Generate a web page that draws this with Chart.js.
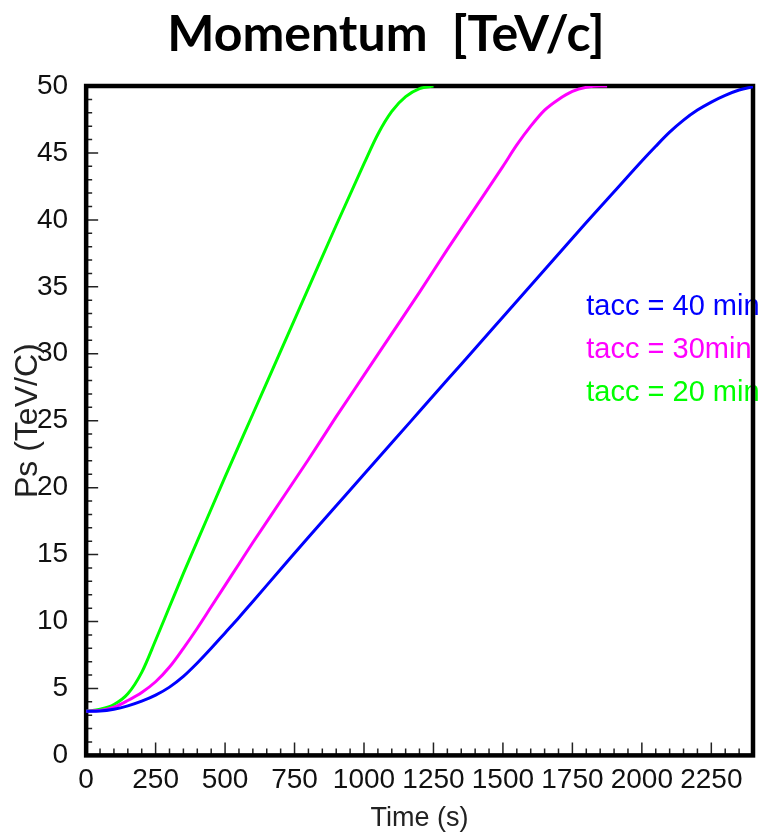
<!DOCTYPE html>
<html lang="en">
<head>
<meta charset="UTF-8" />
<title>Momentum [TeV/c]</title>
<script src="https://cdn.jsdelivr.net/npm/chart.js"></script>
<style>
  html, body { margin: 0; padding: 0; background: #fff; }
  #wrap { width: 758px; height: 832px; }
</style>
</head>
<body>
<div id="wrap"><canvas id="chartMomentum"></canvas></div>
<script>
  // momentum ramp for three acceleration times
  const blueTime = [0, 50, 100, 150, 200, 250, 300, 350, 400, 450, 500, 550, 600, 700, 800, 900, 1000, 1100, 1200, 1300, 1400, 1500, 1600, 1700, 1800, 1900, 2000, 2050, 2100, 2150, 2200, 2250, 2300, 2350, 2400];
  const blueMom  = [3.3, 3.32, 3.45, 3.7, 4.05, 4.5, 5.1, 5.9, 6.9, 8.0, 9.15, 10.3, 11.5, 13.9, 16.3, 18.65, 21.0, 23.35, 25.7, 28.05, 30.4, 32.75, 35.1, 37.45, 39.8, 42.1, 44.4, 45.5, 46.55, 47.45, 48.2, 48.8, 49.3, 49.7, 49.95];

  const magentaTime = [0, 50, 100, 150, 200, 250, 300, 350, 400, 450, 500, 550, 600, 700, 800, 900, 1000, 1100, 1200, 1300, 1400, 1500, 1550, 1600, 1650, 1700, 1750, 1800, 1850, 1875];
  const magentaMom  = [3.3, 3.35, 3.6, 4.1, 4.7, 5.5, 6.6, 8.0, 9.5, 11.1, 12.7, 14.3, 15.9, 19.0, 22.1, 25.3, 28.4, 31.5, 34.6, 37.8, 40.9, 44.0, 45.6, 47.0, 48.2, 49.0, 49.6, 49.9, 50.0, 50.0];

  const greenTime = [0, 50, 100, 150, 200, 250, 300, 350, 400, 500, 600, 700, 800, 900, 1000, 1050, 1100, 1150, 1200, 1250];
  const greenMom  = [3.3, 3.45, 3.8, 4.6, 6.2, 8.6, 11.1, 13.6, 16.0, 20.8, 25.5, 30.2, 34.9, 39.6, 44.2, 46.4, 48.1, 49.2, 49.8, 50.0];

  const seriesLabels = ['tacc = 40 min', 'tacc = 30min', 'tacc = 20 min'];
  const seriesColors = ['#0000ff', '#ff00ff', '#00ff00'];

  const xMax = 2400, xMajor = 250, xMinor = 50;
  const yMax = 50, yMajor = 5, yMinor = 1;

  const toPoints = (ts, vs) => ts.map((t, i) => ({ x: t, y: vs[i] }));

  // inward ticks, frame, in-plot labels and the y title
  const framePlugin = {
    id: 'framePlugin',
    beforeDatasetsDraw(chart) {
      const { ctx, chartArea: a, scales: { x, y } } = chart;
      ctx.save();
      ctx.strokeStyle = '#222';
      ctx.lineWidth = 1.5;
      ctx.beginPath();
      for (let t = 0; t <= xMax; t += xMinor) {
        const px = x.getPixelForValue(t);
        const len = t % xMajor === 0 ? 13 : 7;
        ctx.moveTo(px, a.bottom);
        ctx.lineTo(px, a.bottom - len);
      }
      for (let v = 0; v <= yMax; v += yMinor) {
        const py = y.getPixelForValue(v);
        const len = v % yMajor === 0 ? 12 : 6;
        ctx.moveTo(a.left, py);
        ctx.lineTo(a.left + len, py);
      }
      ctx.stroke();

      ctx.font = '29px "Liberation Sans", Arial, sans-serif';
      ctx.textBaseline = 'middle';
      ctx.textAlign = 'left';
      const lx = x.getPixelForValue(1800);
      const ly = y.getPixelForValue(33.5);
      seriesLabels.forEach((txt, i) => {
        ctx.fillStyle = seriesColors[i];
        ctx.fillText(txt, lx, ly + i * 43);
      });

      ctx.strokeStyle = '#000';
      ctx.lineWidth = 4.5;
      ctx.strokeRect(a.left, a.top, a.right - a.left, a.bottom - a.top);
      ctx.restore();
    },
    afterDraw(chart) {
      const { ctx, chartArea: a } = chart;
      ctx.save();
      ctx.translate(a.left - 58, (a.top + a.bottom) / 2);
      ctx.rotate(-Math.PI / 2);
      ctx.font = '32px "Liberation Sans", Arial, sans-serif';
      ctx.fillStyle = '#222';
      ctx.textAlign = 'center';
      ctx.textBaseline = 'middle';
      ctx.fillText('Ps (TeV/C)', 0, 0);
      ctx.restore();
    }
  };

  new Chart(document.getElementById('chartMomentum'), {
    type: 'line',
    data: {
      datasets: [
        { label: seriesLabels[0], data: toPoints(blueTime, blueMom), borderColor: seriesColors[0] },
        { label: seriesLabels[1], data: toPoints(magentaTime, magentaMom), borderColor: seriesColors[1] },
        { label: seriesLabels[2], data: toPoints(greenTime, greenMom), borderColor: seriesColors[2] }
      ].map(d => Object.assign(d, {
        borderWidth: 3,
        pointRadius: 0,
        fill: false,
        cubicInterpolationMode: 'monotone'
      }))
    },
    options: {
      responsive: true,
      maintainAspectRatio: false,
      animation: false,
      layout: { padding: { left: 19, right: 5, top: 0, bottom: 0 } },
      plugins: {
        legend: { display: false },
        tooltip: { enabled: false },
        title: {
          display: true,
          text: 'Momentum  [TeV/c]',
          color: '#000',
          font: { family: 'Lato, "Open Sans", sans-serif', size: 50, weight: 'bold' },
          padding: { top: 5, bottom: 21 }
        }
      },
      scales: {
        x: {
          type: 'linear',
          min: 0,
          max: xMax,
          grid: { display: false, drawTicks: false },
          border: { display: false },
          ticks: {
            stepSize: xMajor,
            includeBounds: false,
            autoSkip: false,
            maxRotation: 0,
            minRotation: 0,
            padding: 8,
            color: '#111',
            font: { family: '"Liberation Sans", Arial, sans-serif', size: 28 },
            callback: v => String(v)
          },
          title: {
            display: true,
            text: 'Time (s)',
            color: '#222',
            font: { family: '"Liberation Sans", Arial, sans-serif', size: 27, lineHeight: 1.0 },
            padding: { top: 0, bottom: 0 }
          }
        },
        y: {
          min: 0,
          max: yMax,
          grid: { display: false, drawTicks: false },
          border: { display: false },
          ticks: {
            stepSize: yMajor,
            padding: 18,
            color: '#111',
            font: { family: '"Liberation Sans", Arial, sans-serif', size: 28 }
          }
        }
      }
    },
    plugins: [framePlugin]
  });
</script>
</body>
</html>
